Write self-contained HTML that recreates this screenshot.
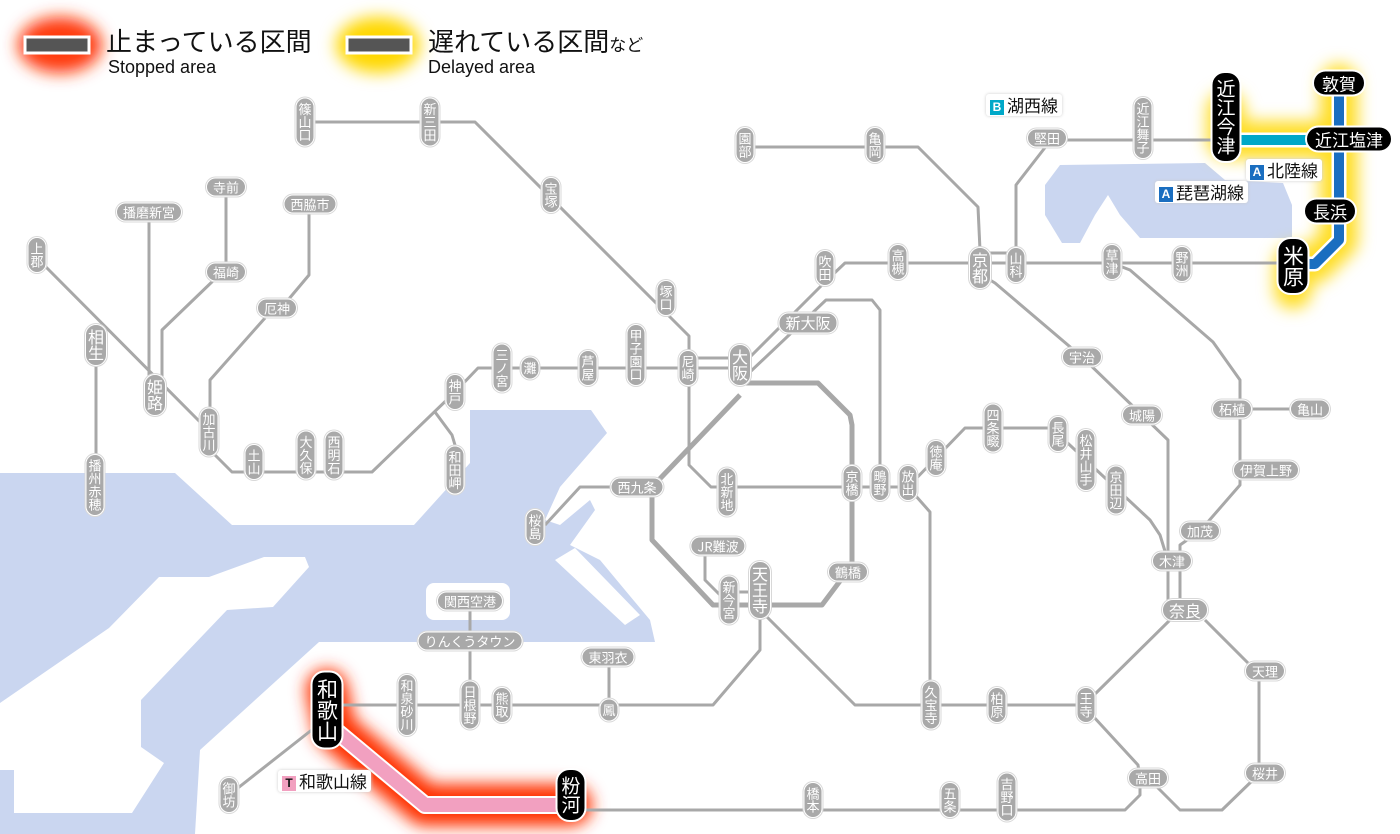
<!DOCTYPE html>
<html><head><meta charset="utf-8"><style>
html,body{margin:0;padding:0;background:#fff;}
#w{position:relative;width:1400px;height:834px;overflow:hidden;font-family:"Liberation Sans","Noto Sans CJK JP",sans-serif;}
svg{position:absolute;left:0;top:0;}
.p{position:absolute;transform:translate(-50%,-50%);background:#a9a9a9;color:#fff;border:1.5px solid #fff;border-radius:10px;font-size:13px;line-height:1;white-space:nowrap;font-family:"Noto Sans CJK JP",sans-serif;box-shadow:0 0 0 1px #d8d8d8;}
.v{writing-mode:vertical-rl;padding:4px 2px;}
.h{padding:2px 6px;}
.b{font-size:16px;border-radius:12px;}
.k{background:#000;border:2px solid #fff;font-size:19px;border-radius:14px;box-shadow:none;}
.k.v{padding:6px 4px;}
.k.h{padding:3px 8px;}
.lab{position:absolute;font-family:"Noto Sans CJK JP",sans-serif;font-size:17px;color:#111;background:#fff;padding:1px 4px;border-radius:3px;box-shadow:0 0 3px #ccc;line-height:1.2;}
.ic{display:inline-block;width:14px;height:15px;color:#fff;font:bold 12px/15px "Liberation Sans",sans-serif;text-align:center;margin-right:3px;vertical-align:1px;}
.lg1{position:absolute;font-family:"Noto Sans CJK JP",sans-serif;font-size:26px;color:#111;line-height:1;}
.lg2{position:absolute;font-family:"Liberation Sans",sans-serif;font-size:18px;color:#111;line-height:1;}
</style></head><body><div id="w">
<svg width="1400" height="834" viewBox="0 0 1400 834">
<defs>
<filter id="gr" x="-50%" y="-50%" width="200%" height="200%"><feGaussianBlur stdDeviation="8"/></filter>
<filter id="gy" x="-50%" y="-50%" width="200%" height="200%"><feGaussianBlur stdDeviation="8"/></filter>
</defs>
<polygon fill="#cad6f0" points="0,473 175,473 232,525 414,525 470,463 470,410 591,410 607,433 560,487 545,520 560,525 590,500 595,510 570,545 600,560 650,620 655,642 319,642 200,750 195,834 0,834"/>
<polygon fill="#fff" points="264,557 305,557 309,567 273,607 227,610 141,700 141,747 164,763 132,813 14,813 14,770 0,770 0,703 109,628 159,577 209,577"/>
<rect x="426" y="583" width="84" height="37" rx="8" fill="#fff"/>
<polygon fill="#fff" points="555,560 575,548 640,615 625,625"/>
<polygon fill="#cad6f0" points="1060,165 1205,163 1225,180 1283,183 1292,205 1292,238 1140,238 1120,215 1108,195 1095,215 1080,243 1062,243 1045,215 1045,185"/>
<ellipse cx="60" cy="45" rx="42" ry="28" fill="#ff3a10" filter="url(#gr)"/>
<ellipse cx="378" cy="45" rx="42" ry="28" fill="#ffd800" filter="url(#gy)"/>
<rect x="25" y="37" width="64" height="16" fill="#555" stroke="#fff" stroke-width="3"/>
<rect x="347" y="37" width="64" height="16" fill="#555" stroke="#fff" stroke-width="3"/>
<polyline fill="none" stroke="#ffd800" stroke-opacity="0.85" stroke-width="38" stroke-linejoin="round" stroke-linecap="round" filter="url(#gy)" points="1226,110 1226,140 1339,140 1339,83 1339,240 1315,264 1293,264 1293,290"/>
<polyline fill="none" stroke="#ff3300" stroke-width="42" stroke-linejoin="round" stroke-linecap="round" filter="url(#gr)" points="327,690 335,730 425,805 571,805"/>
<g fill="none" stroke="#a8a8a8" stroke-width="3" stroke-linejoin="round">
<polyline points="305,122 475,122 665,312 689,336 689,465 711,487 908,487"/>
<polyline points="37,258 208,430 210,450 232,472 372,472 455,392 478,368 740,368"/>
<polyline points="689,358 740,358"/>
<polyline points="745,362 825,282 845,263 1293,263"/>
<polyline points="750,372 826,300 872,300 880,310 880,483"/>
<polyline points="980,253 1016,253"/>
<polyline points="96,345 96,485"/>
<polyline points="149,212 149,395"/>
<polyline points="162,395 162,330 216,278 226,272 226,187"/>
<polyline points="210,430 210,380 265,318"/>
<polyline points="288,300 309,275 309,204"/>
<polyline points="435,412 452,435 455,445 455,470"/>
<polyline points="637,487 580,487 545,525"/>
<polyline points="705,546 705,580 722,597 729,600"/>
<polyline points="729,592 760,592"/>
<polyline points="760,600 760,650 713,705 327,705"/>
<polyline points="470,601 470,705"/>
<polyline points="609,657 609,705"/>
<polyline points="765,615 855,705 1086,705 1092,697 1172,618"/>
<polyline points="1092,715 1138,765 1140,778"/>
<polyline points="1140,785 1140,795 1125,810 571,810"/>
<polyline points="1155,785 1180,810 1222,810 1255,778"/>
<polyline points="1259,773 1259,671"/>
<polyline points="1250,665 1205,620"/>
<polyline points="990,280 995,283 1082,357 1142,415 1168,440 1168,610"/>
<polyline points="1180,561 1180,610"/>
<polyline points="908,487 936,458 965,428 1048,428 1058,434 1150,520 1160,535 1168,561"/>
<polyline points="1180,561 1180,545 1200,531 1240,485 1240,380 1213,342 1130,270 1112,263"/>
<polyline points="1232,409 1310,409"/>
<polyline points="915,495 930,512 930,705"/>
<polyline points="1016,253 1016,185 1047,145 1047,140 1226,140"/>
<polyline points="745,147 918,147 978,207 980,250"/>
<polyline points="318,725 229,795"/>
</g>
<polyline fill="none" stroke="#a8a8a8" stroke-width="5" stroke-linejoin="round" points="740,383 818,383 850,415 852,425 852,565 822,605 713,605 652,540 652,487 740,395"/>
<polyline fill="none" stroke="#fff" stroke-width="15" points="1226,140 1349,140"/>
<polyline fill="none" stroke="#00a8c8" stroke-width="10" points="1226,140 1349,140"/>
<polyline fill="none" stroke="#fff" stroke-width="15" stroke-linejoin="round" points="1339,83 1339,240 1315,264 1293,264"/>
<polyline fill="none" stroke="#1a6ec0" stroke-width="10" stroke-linejoin="round" points="1339,83 1339,240 1315,264 1293,264"/>
<polyline fill="none" stroke="#fff" stroke-width="18" stroke-linejoin="round" points="327,720 335,730 425,805 571,805"/>
<polyline fill="none" stroke="#f2a0c0" stroke-width="14" stroke-linejoin="round" points="327,720 335,730 425,805 571,805"/>
</svg>

<div class="lg1" style="left:106px;top:28px">止まっている区間</div>
<div class="lg2" style="left:108px;top:58px">Stopped area</div>
<div class="lg1" style="left:428px;top:28px">遅れている区間<span style="font-size:17px">など</span></div>
<div class="lg2" style="left:428px;top:58px">Delayed area</div>

<div class="lab" style="left:986px;top:94px"><span class="ic" style="background:#00a8c8">B</span>湖西線</div>
<div class="lab" style="left:1246px;top:159px"><span class="ic" style="background:#1a6ec0">A</span>北陸線</div>
<div class="lab" style="left:1155px;top:181px"><span class="ic" style="background:#1a6ec0">A</span>琵琶湖線</div>
<div class="lab" style="left:278px;top:770px"><span class="ic" style="background:#f2a0c0;color:#111">T</span>和歌山線</div>

<div class="p v" style="left:305px;top:122px">篠山口</div>
<div class="p v" style="left:430px;top:122px">新三田</div>
<div class="p v" style="left:551px;top:195px">宝塚</div>
<div class="p v" style="left:666px;top:298px">塚口</div>
<div class="p v" style="left:37px;top:255px">上郡</div>
<div class="p v" style="left:209px;top:432px">加古川</div>
<div class="p v" style="left:254px;top:462px">土山</div>
<div class="p v" style="left:306px;top:455px">大久保</div>
<div class="p v" style="left:334px;top:455px">西明石</div>
<div class="p v" style="left:455px;top:392px">神戸</div>
<div class="p v" style="left:455px;top:470px">和田岬</div>
<div class="p v" style="left:502px;top:368px">三ノ宮</div>
<div class="p v" style="left:530px;top:368px">灘</div>
<div class="p v" style="left:588px;top:368px">芦屋</div>
<div class="p v" style="left:636px;top:355px">甲子園口</div>
<div class="p v" style="left:688px;top:368px">尼崎</div>
<div class="p v" style="left:95px;top:485px">播州赤穂</div>
<div class="p v" style="left:535px;top:527px">桜島</div>
<div class="p v" style="left:727px;top:492px">北新地</div>
<div class="p v" style="left:852px;top:483px">京橋</div>
<div class="p v" style="left:880px;top:483px">鴫野</div>
<div class="p v" style="left:908px;top:483px">放出</div>
<div class="p v" style="left:936px;top:458px">徳庵</div>
<div class="p v" style="left:993px;top:428px">四条畷</div>
<div class="p v" style="left:1058px;top:434px">長尾</div>
<div class="p v" style="left:1086px;top:460px">松井山手</div>
<div class="p v" style="left:1116px;top:490px">京田辺</div>
<div class="p v" style="left:729px;top:600px">新今宮</div>
<div class="p v" style="left:407px;top:705px">和泉砂川</div>
<div class="p v" style="left:470px;top:705px">日根野</div>
<div class="p v" style="left:502px;top:705px">熊取</div>
<div class="p v" style="left:609px;top:710px">鳳</div>
<div class="p v" style="left:931px;top:705px">久宝寺</div>
<div class="p v" style="left:997px;top:705px">柏原</div>
<div class="p v" style="left:1086px;top:705px">王寺</div>
<div class="p v" style="left:229px;top:795px">御坊</div>
<div class="p v" style="left:813px;top:800px">橋本</div>
<div class="p v" style="left:950px;top:800px">五条</div>
<div class="p v" style="left:1007px;top:797px">吉野口</div>
<div class="p v" style="left:825px;top:268px">吹田</div>
<div class="p v" style="left:898px;top:262px">高槻</div>
<div class="p v" style="left:1016px;top:265px">山科</div>
<div class="p v" style="left:1112px;top:262px">草津</div>
<div class="p v" style="left:1182px;top:264px">野洲</div>
<div class="p v" style="left:1143px;top:128px">近江舞子</div>
<div class="p v" style="left:745px;top:145px">園部</div>
<div class="p v" style="left:875px;top:145px">亀岡</div>

<div class="p v b" style="left:96px;top:345px">相生</div>
<div class="p v b" style="left:155px;top:395px">姫路</div>
<div class="p v b" style="left:740px;top:365px">大阪</div>
<div class="p v b" style="left:760px;top:590px">天王寺</div>
<div class="p v b" style="left:980px;top:268px">京都</div>

<div class="p h" style="left:226px;top:187px">寺前</div>
<div class="p h" style="left:149px;top:212px">播磨新宮</div>
<div class="p h" style="left:310px;top:204px">西脇市</div>
<div class="p h" style="left:226px;top:272px">福崎</div>
<div class="p h" style="left:277px;top:308px">厄神</div>
<div class="p h" style="left:808px;top:323px;font-size:15px">新大阪</div>
<div class="p h" style="left:1082px;top:357px">宇治</div>
<div class="p h" style="left:1142px;top:415px">城陽</div>
<div class="p h" style="left:1232px;top:409px">柘植</div>
<div class="p h" style="left:1310px;top:409px">亀山</div>
<div class="p h" style="left:1266px;top:470px">伊賀上野</div>
<div class="p h" style="left:1200px;top:531px">加茂</div>
<div class="p h" style="left:1172px;top:561px">木津</div>
<div class="p h b" style="left:1185px;top:610px">奈良</div>
<div class="p h" style="left:1265px;top:671px">天理</div>
<div class="p h" style="left:1265px;top:773px">桜井</div>
<div class="p h" style="left:1148px;top:778px">高田</div>
<div class="p h" style="left:637px;top:487px">西九条</div>
<div class="p h" style="left:718px;top:546px">JR難波</div>
<div class="p h" style="left:848px;top:572px">鶴橋</div>
<div class="p h" style="left:470px;top:601px">関西空港</div>
<div class="p h" style="left:470px;top:641px">りんくうタウン</div>
<div class="p h" style="left:608px;top:657px">東羽衣</div>
<div class="p h" style="left:1047px;top:138px">堅田</div>

<div class="p v k" style="left:327px;top:710px;font-size:21px">和歌山</div>
<div class="p v k" style="left:571px;top:795px">粉河</div>
<div class="p v k" style="left:1226px;top:117px">近江今津</div>
<div class="p v k" style="left:1293px;top:266px;font-size:21px">米原</div>
<div class="p h k" style="left:1339px;top:83px;font-size:17px">敦賀</div>
<div class="p h k" style="left:1349px;top:139px;font-size:17px">近江塩津</div>
<div class="p h k" style="left:1330px;top:211px;font-size:17px">長浜</div>
</div></body></html>
